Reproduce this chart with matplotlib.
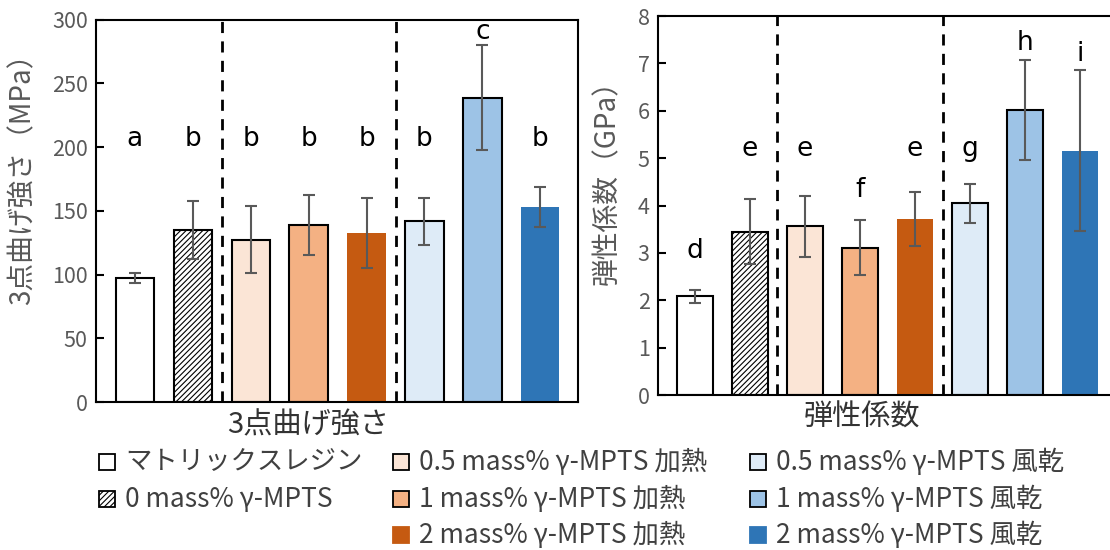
import matplotlib.pyplot as plt
from matplotlib.patches import Rectangle

plt.rcParams['font.family'] = ['Noto Sans CJK JP', 'DejaVu Sans']
plt.rcParams['hatch.linewidth'] = 0.8

labels = ["マトリックスレジン", "0 mass% γ-MPTS",
          "0.5 mass% γ-MPTS 加熱", "1 mass% γ-MPTS 加熱", "2 mass% γ-MPTS 加熱",
          "0.5 mass% γ-MPTS 風乾", "1 mass% γ-MPTS 風乾", "2 mass% γ-MPTS 風乾"]
colors = ["white", "white", "#FBE5D6", "#F4B183", "#C55A11", "#DEEBF7", "#9DC3E6", "#2E75B6"]
edges = ["black", "black", "black", "black", "none", "black", "black", "none"]
hatches = [None, "//////", None, None, None, None, None, None]

strength = [97.3, 135.2, 127.4, 138.9, 132.6, 141.8, 238.8, 152.8]
strength_err = [4.1, 22.7, 26.2, 23.7, 27.2, 18.3, 41.3, 15.6]
strength_letters = ["a", "b", "b", "b", "b", "b", "c", "b"]
strength_letter_y = [206, 206, 206, 206, 206, 206, 290, 206]

modulus = [2.08, 3.45, 3.56, 3.11, 3.72, 4.05, 6.02, 5.16]
modulus_err = [0.13, 0.68, 0.65, 0.58, 0.57, 0.41, 1.06, 1.70]
modulus_letters = ["d", "e", "e", "f", "e", "g", "h", "i"]
modulus_letter_y = [3.03, 5.2, 5.2, 4.33, 5.2, 5.2, 7.42, 7.2]

# legend layout: (column, row) of each entry
legend_slots = [(0, 0), (0, 1), (1, 0), (1, 1), (1, 2), (2, 0), (2, 1), (2, 2)]
legend_cols_x = [99, 393, 750]
legend_rows_y = [462, 499, 535]

GRAY = "#595959"
W, H = 1110, 550

fig = plt.figure(figsize=(11.1, 5.5), dpi=100)
ax1 = fig.add_axes([0.0865, 0.269, 0.4342, 0.6955])
ax2 = fig.add_axes([0.5928, 0.2818, 0.4135, 0.6891])


def draw(ax, vals, errs, letters, ly, ylim, yticks, ylabel, xlabel):
    x = list(range(len(vals)))
    for i in x:
        ax.bar(i, vals[i], width=0.66, color=colors[i], edgecolor=edges[i],
               hatch=hatches[i], linewidth=1.5, zorder=2)
        ax.errorbar(i, vals[i], yerr=errs[i], color=GRAY, elinewidth=1.5,
                    capsize=4, capthick=1.5, zorder=3)
        ax.text(i, ly[i], letters[i], ha="center", va="center", fontsize=19,
                color="black", family=["DejaVu Sans"])
    for xv in (1.5, 4.5):
        ax.axvline(xv, color="black", linestyle=(0, (4, 3)), linewidth=2, zorder=1)
    ax.set_xlim(-0.67, 7.65)
    ax.set_ylim(*ylim)
    ax.set_yticks(yticks)
    ax.set_xticks([])
    ax.tick_params(axis="y", direction="in", length=6, width=1.5,
                   labelsize=15.5, labelcolor=GRAY, pad=6)
    for s in ax.spines.values():
        s.set_linewidth(1.5)
    ax.set_ylabel(ylabel, fontsize=20, color=GRAY)
    ax.set_xlabel(xlabel, fontsize=21, color="#333333")


draw(ax1, strength, strength_err, strength_letters, strength_letter_y,
     (0, 300), range(0, 301, 50), "3点曲げ強さ（MPa）", "3点曲げ強さ")
draw(ax2, modulus, modulus_err, modulus_letters, modulus_letter_y,
     (0, 8), range(0, 9), "弾性係数（GPa）", "弾性係数")
ax2.set_xlim(-0.67, 7.67)

ax1.yaxis.set_label_coords(-0.122, 0.60)
ax2.yaxis.set_label_coords(-0.078, 0.58)
ax1.xaxis.set_label_coords(0.44, -0.022)
ax2.xaxis.set_label_coords(0.444, -0.02)

# legend drawn by hand so the three columns sit where the reference has them
box = 16
for i, (c, r) in enumerate(legend_slots):
    bx = legend_cols_x[c]
    cy = legend_rows_y[r]
    fig.patches.append(Rectangle((bx / W, 1 - (cy + box / 2) / H), box / W, box / H,
                                 transform=fig.transFigure, facecolor=colors[i],
                                 edgecolor=edges[i] if edges[i] != "none" else colors[i],
                                 hatch=hatches[i], linewidth=1.3))
    fig.text((bx + box + 10) / W, 1 - cy / H, labels[i], fontsize=19,
             color="#404040", ha="left", va="center")

fig.savefig("out.png", dpi=100)
